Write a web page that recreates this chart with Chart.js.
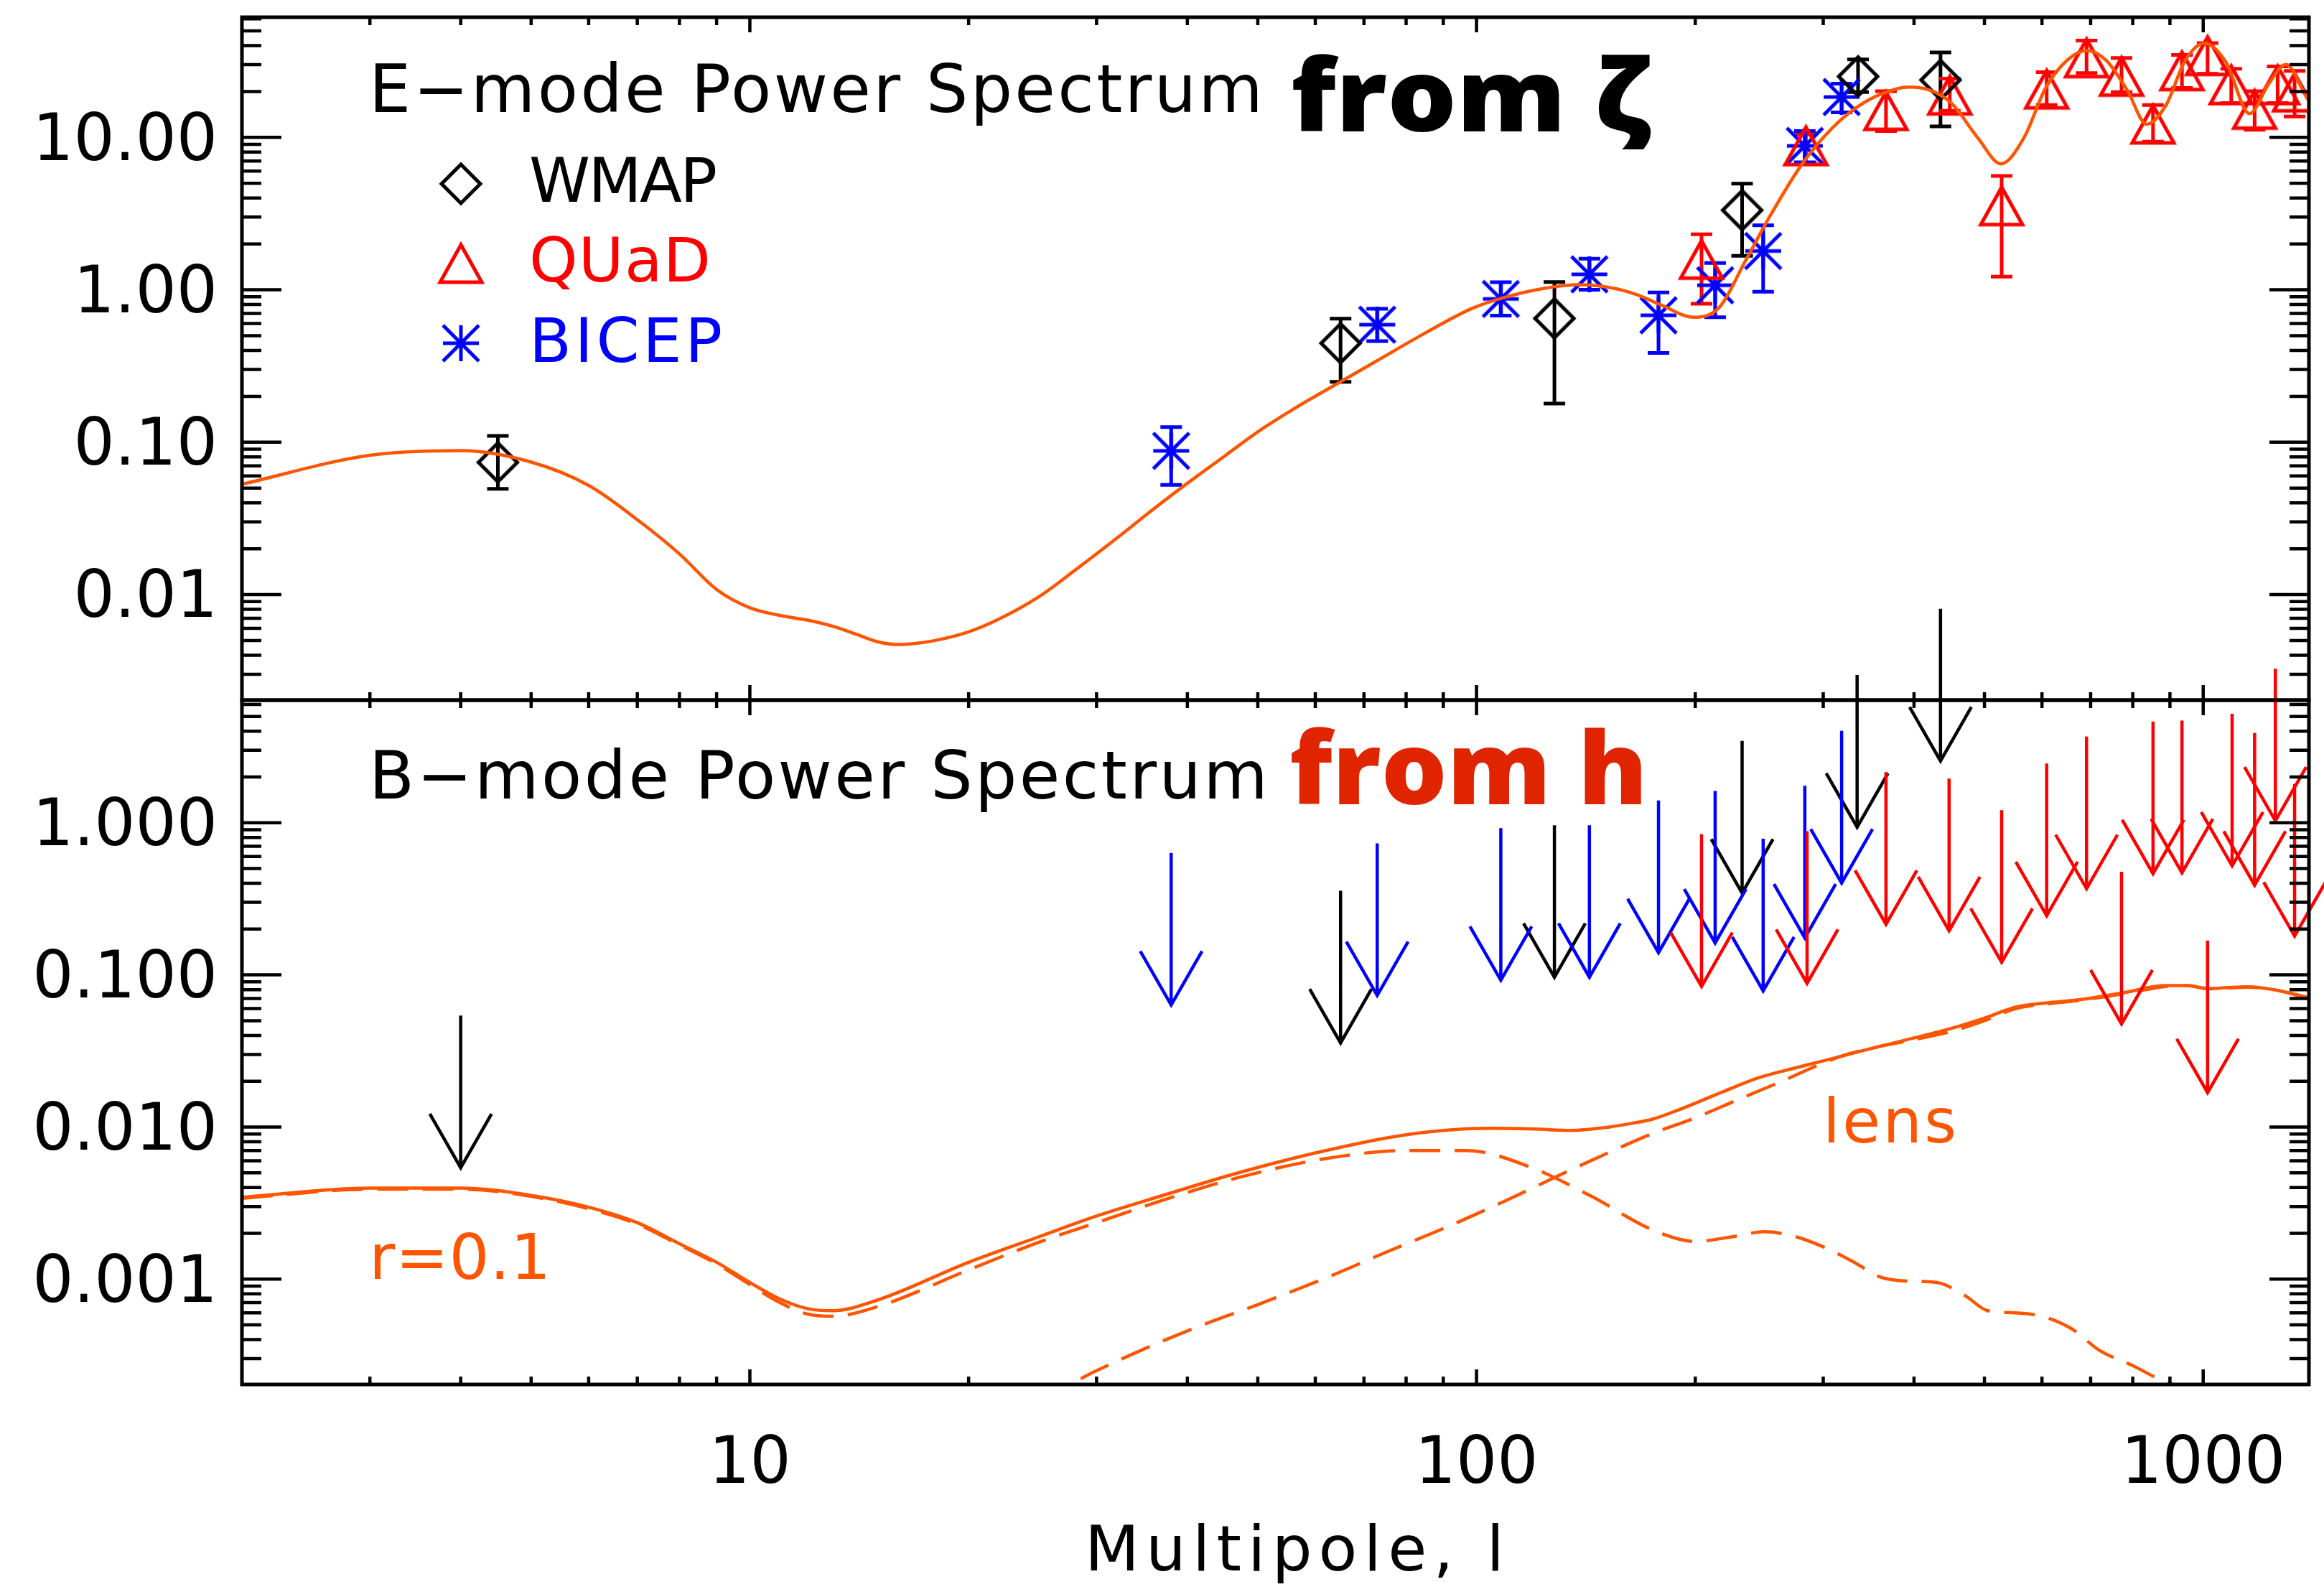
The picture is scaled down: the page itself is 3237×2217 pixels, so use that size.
<!DOCTYPE html>
<html><head><meta charset="utf-8">
<script src="https://cdn.jsdelivr.net/npm/chart.js@4.4.1/dist/chart.umd.min.js"></script>
<style>
html,body{margin:0;padding:0;background:#fff;}
#wrap{position:relative;width:3237px;height:2217px;}
#wrap canvas{position:absolute;left:0;top:0;}
</style></head>
<body><div id="wrap"><canvas id="cTop" width="3237" height="2217"></canvas><canvas id="cBot" width="3237" height="2217"></canvas></div>
<script>
// ---------------- axis ranges & tick labels ----------------
const xRange = [2, 1398];
const yTopRange = [0.00203, 61.4];
const yBotRange = [0.000203, 6.4];
const xTickVals = [10, 100, 1000];
const xTickLabels = ['10', '100', '1000'];
const yTopTickVals = [0.01, 0.1, 1, 10];
const yTopTickLabels = ['0.01', '0.10', '1.00', '10.00'];
const yBotTickVals = [0.001, 0.01, 0.1, 1];
const yBotTickLabels = ['0.001', '0.010', '0.100', '1.000'];

// ---------------- E-mode theory ----------------
const eL = [2,3,4,5,6,7,8,9,10,11,12,13,14,15,16,17,18,20,22,25,28.2,32,35,39.2,45,50,56,62.5,72.7,84.6,98.4,108.6,123.6,138.5,155,166,180,199,216,234,254,280,308,334,362,393,421,450,489,527,567,607,650,691,735,786,836,889,945,1004,1075,1158,1231,1300,1392,1420];
const eCl = [0.053,0.082,0.088,0.074,0.052,0.031,0.0185,0.0108,0.0082,0.0073,0.0068,0.0062,0.0055,0.0049,0.0047,0.0048,0.0050,0.0057,0.0069,0.0097,0.0148,0.0235,0.0330,0.050,0.081,0.117,0.165,0.224,0.339,0.514,0.751,0.884,1.02,1.078,1.02,0.93,0.79,0.66,0.77,1.52,3.1,6.6,11.4,15.8,19.4,21.4,20.4,16.8,10.0,6.7,10.0,21.1,32.1,37.1,32.1,20.4,12.2,16.3,32.1,41.6,31.1,14.3,22.5,30.1,17.9,16];

// ---------------- E-mode data ----------------
const wmapL = [4.5, 65, 128, 232, 335, 435];
const wmapE = [0.0737, 0.446, 0.649, 3.33, 25.1, 23.8];
const wmapEhi = [0.110, 0.646, 1.123, 4.97, 32.5, 36.1];
const wmapElo = [0.0494, 0.249, 0.179, 1.67, 19.8, 11.8];

const quadL = [204, 284, 366, 448, 528, 609, 691, 772, 853, 935, 1014, 1093, 1177, 1266, 1336];
const quadE = [1.58, 8.79, 14.96, 18.9, 3.55, 20.7, 33.2, 25.1, 12.2, 27.3, 34.3, 22.1, 15.25, 22.1, 19.8];
const quadEhi = [2.31, 10.5, 20.1, 24.3, 5.58, 26.8, 43.1, 33.2, 16.3, 34.7, 41.6, 28.2, 20.1, 29.2, 27.3];
const quadElo = [0.81, 6.8, 11.0, 14.96, 1.22, 16.3, 26.4, 19.8, 9.38, 21.1, 26.1, 16.8, 11.2, 16.8, 13.7];

const bicepL = [38, 73, 108, 143, 178, 213, 248, 283, 318];
const bicepE = [0.0877, 0.59, 0.871, 1.263, 0.68, 1.07, 1.796, 8.79, 18.4];
const bicepEhi = [0.1256, 0.75, 1.12, 1.60, 0.96, 1.50, 2.65, 11.0, 22.5];
const bicepElo = [0.0524, 0.46, 0.676, 1.00, 0.385, 0.66, 0.97, 6.87, 14.6];

// ---------------- B-mode theory ----------------
const totL = [2,3,4,5,6,7,8,9,10,11,12,13,15,20,25,30,37,47,62,80,104,120,135,150,164,174,190,218,244,275,300,343,400,450,500,552,620,677,775,888,950,1018,1080,1150,1250,1392,1420];
const totB = [0.00345,0.00397,0.00397,0.00355,0.00297,0.00235,0.00171,0.00129,0.00095,0.00074,0.00064,0.00062,0.00073,0.00129,0.00190,0.00260,0.00355,0.00500,0.00700,0.00890,0.0098,0.0097,0.0095,0.0099,0.0106,0.0112,0.0130,0.0170,0.0210,0.0245,0.0272,0.0321,0.0385,0.0445,0.052,0.0614,0.066,0.0688,0.0762,0.0850,0.0850,0.0813,0.0825,0.0834,0.080,0.0714,0.070];
const tensL = [2,3,4,5,6,7,8,9,10,11,12,13,15,20,25,30,37,47,62,80,97,118,144,175,200,225,249,275,300,330,360,393,430,470,505,550,600,660,720,800,870,915,960];
const tensB = [0.0034,0.0039,0.0039,0.0035,0.0029,0.0023,0.00168,0.00126,0.00092,0.0007,0.00059,0.00057,0.00066,0.00115,0.00175,0.00235,0.0033,0.00465,0.0062,0.0070,0.0070,0.0055,0.0035,0.0021,0.00177,0.0019,0.00205,0.0019,0.00163,0.0013,0.00103,0.00097,0.00095,0.00078,0.00062,0.00060,0.00057,0.00047,0.00034,0.00027,0.00022,0.0002,0.00017];
const lensL = [25,27.3,30,35,42,50,63,75,91,110,131,150,174,200,228,260,316,360,400,450,500,552,620,677,775,888,950,1018,1080,1150,1250,1392,1420];
const lensB = [0.00017,0.0002,0.00025,0.00035,0.0005,0.00068,0.00105,0.0015,0.0022,0.0033,0.0049,0.0066,0.0090,0.0115,0.0150,0.0195,0.0290,0.0340,0.0375,0.0425,0.050,0.060,0.065,0.068,0.075,0.084,0.085,0.081,0.082,0.083,0.080,0.071,0.070];

// ---------------- B-mode upper limits ----------------
const wmapBL = [4, 65, 128, 232, 334, 435];
const wmapBup = [0.054, 0.357, 0.964, 3.45, 9.35, 25.5];
const bicepBup = [0.634, 0.732, 0.922, 0.964, 1.40, 1.62, 0.785, 1.75, 4.02];
const quadBL = [204, 285, 366, 447, 528, 609, 691, 772, 853, 935, 1014, 1096, 1177, 1257, 1336];
const quadBup = [0.84, 0.88, 2.15, 1.95, 1.21, 2.45, 3.69, 0.476, 4.63, 4.69, 0.168, 5.21, 3.89, 10.3, 1.80];

// ---------------- styles ----------------
const ORANGE = '#ff5500', RED = '#ff0000', BLUE = '#0000ff', BLACK = '#000000', HRED = '#e02400';
const TXT = '"DejaVu Sans", "Liberation Sans", sans-serif';
const BOLD = '"Open Sans", "Noto Sans", sans-serif';

function makeSym(kind, color) {
  const c = document.createElement('canvas'); c.width = 76; c.height = 76;
  const g = c.getContext('2d'); g.strokeStyle = color; g.lineWidth = 5; g.lineJoin = 'miter';
  g.translate(38, 38); g.beginPath();
  if (kind === 'diamond') { g.moveTo(-27,0); g.lineTo(0,-27); g.lineTo(27,0); g.lineTo(0,27); g.closePath(); }
  if (kind === 'triangle') { g.moveTo(-29,26); g.lineTo(29,26); g.lineTo(0,-26); g.closePath(); }
  if (kind === 'asterisk') { g.moveTo(-25,0); g.lineTo(25,0); g.moveTo(0,-25); g.lineTo(0,25); g.moveTo(-25,-25); g.lineTo(25,25); g.moveTo(-25,25); g.lineTo(25,-25); }
  g.stroke(); return c;
}
const symW = makeSym('diamond', BLACK), symQ = makeSym('triangle', RED), symB = makeSym('asterisk', BLUE);

const pts = (xs, ys) => xs.map((x, i) => ({x, y: ys[i]}));

function logTicks(min, max) {
  const out = [];
  for (let e = Math.floor(Math.log10(min)); e <= Math.ceil(Math.log10(max)); e++)
    for (let k = 1; k < 10; k++) { const v = k * Math.pow(10, e); if (v > min * 1.0001 && v < max / 1.0001) out.push([v, k === 1]); }
  return out;
}

// text stretched to a width with letter spacing
function spacedText(ctx, text, x, y, font, color, width) {
  ctx.save(); ctx.font = font; ctx.fillStyle = color; ctx.textBaseline = 'alphabetic'; ctx.textAlign = 'left';
  const n = [...text].length;
  if ('letterSpacing' in ctx && n > 1) {
    ctx.letterSpacing = '0px';
    const w0 = ctx.measureText(text).width;
    ctx.letterSpacing = ((width - w0) / (n - 1)).toFixed(2) + 'px';
  }
  ctx.fillText(text, x, y); ctx.restore();
}
// text scaled horizontally to a width (for the heavy labels)
function scaledText(ctx, text, x, y, font, color, width) {
  ctx.save(); ctx.font = font; ctx.fillStyle = color; ctx.textBaseline = 'alphabetic'; ctx.textAlign = 'left';
  const w0 = ctx.measureText(text).width;
  ctx.translate(x, y); ctx.scale(width / w0, 1);
  ctx.fillText(text, 0, 0); ctx.restore();
}

const framePlugin = {
  id: 'frame',
  afterDraw(chart) {
    const {ctx, chartArea: a} = chart; const x = chart.scales.x, y = chart.scales.y;
    ctx.save(); ctx.strokeStyle = BLACK; ctx.lineWidth = 4.5; ctx.lineCap = 'butt';
    ctx.beginPath();
    logTicks(y.min, y.max).forEach(([v, major]) => {
      const p = y.getPixelForValue(v), L = major ? 55 : 27;
      ctx.moveTo(a.left, p); ctx.lineTo(a.left + L, p); ctx.moveTo(a.right, p); ctx.lineTo(a.right - L, p);
    });
    logTicks(x.min, x.max).forEach(([v, major]) => {
      const p = x.getPixelForValue(v), L = major ? 21 : 11;
      ctx.moveTo(p, a.top); ctx.lineTo(p, a.top + L); ctx.moveTo(p, a.bottom); ctx.lineTo(p, a.bottom - L);
    });
    ctx.stroke();
    ctx.lineWidth = 5; ctx.strokeRect(a.left, a.top, a.right - a.left, a.bottom - a.top);
    ctx.restore();
  }
};

const errSets = [
  {l: wmapL, lo: wmapElo, hi: wmapEhi, color: BLACK},
  {l: quadL, lo: quadElo, hi: quadEhi, color: RED},
  {l: bicepL, lo: bicepElo, hi: bicepEhi, color: BLUE}
];
const errPlugin = {
  id: 'errbars',
  beforeDatasetsDraw(chart) {
    const {ctx} = chart; const x = chart.scales.x, y = chart.scales.y;
    ctx.save(); ctx.lineWidth = 5; ctx.lineCap = 'butt';
    errSets.forEach(s => {
      ctx.strokeStyle = s.color; ctx.beginPath();
      s.l.forEach((l, i) => {
        const px = x.getPixelForValue(l), p1 = y.getPixelForValue(s.hi[i]), p2 = y.getPixelForValue(s.lo[i]);
        ctx.moveTo(px, p1); ctx.lineTo(px, p2);
        ctx.moveTo(px - 15, p1); ctx.lineTo(px + 15, p1);
        ctx.moveTo(px - 15, p2); ctx.lineTo(px + 15, p2);
      });
      ctx.stroke();
    });
    ctx.restore();
  }
};

const topText = {
  id: 'topText',
  afterDraw(chart) {
    const ctx = chart.ctx;
    spacedText(ctx, 'E\u2212mode Power Spectrum', 514, 156, '92px ' + TXT, BLACK, 1245);
    scaledText(ctx, 'from \u03b6', 1798, 183, '800 140px ' + BOLD, BLACK, 500);
    const leg = [[symW, 'WMAP', BLACK, 256, 281, 262], [symQ, 'QUaD', RED, 367, 392, 253], [symB, 'BICEP', BLUE, 478, 504, 269]];
    leg.forEach(([img, t, c, sy, by, w]) => {
      ctx.drawImage(img, 642 - img.width / 2, sy - img.height / 2);
      spacedText(ctx, t, 737, by, '86px ' + TXT, c, w);
    });
  }
};

const arrowSets = [
  {l: wmapBL, up: wmapBup, color: BLACK},
  {l: bicepL, up: bicepBup, color: BLUE},
  {l: quadBL, up: quadBup, color: RED}
];
const arrowPlugin = {
  id: 'arrows',
  afterDatasetsDraw(chart) {
    const {ctx} = chart; const x = chart.scales.x, y = chart.scales.y;
    ctx.save(); ctx.lineWidth = 4.5; ctx.lineCap = 'butt'; ctx.lineJoin = 'miter';
    arrowSets.forEach(s => {
      ctx.strokeStyle = s.color;
      s.l.forEach((l, i) => {
        const px = x.getPixelForValue(l), pt = y.getPixelForValue(s.up[i]), pb = y.getPixelForValue(s.up[i] / 10);
        ctx.beginPath();
        ctx.moveTo(px, pt); ctx.lineTo(px, pb);
        ctx.moveTo(px - 43, pb - 75); ctx.lineTo(px, pb); ctx.lineTo(px + 43, pb - 75);
        ctx.stroke();
      });
    });
    ctx.restore();
  }
};

const botText = {
  id: 'botText',
  afterDraw(chart) {
    const ctx = chart.ctx;
    spacedText(ctx, 'B\u2212mode Power Spectrum', 514, 1112, '92px ' + TXT, BLACK, 1252);
    scaledText(ctx, 'from h', 1796, 1120, '800 140px ' + BOLD, HRED, 499);
    spacedText(ctx, 'r=0.1', 514, 1781, '88px ' + TXT, ORANGE, 253);
    spacedText(ctx, 'lens', 2539, 1591, '86px ' + TXT, ORANGE, 186);
    spacedText(ctx, 'Multipole, l', 1511, 2187, '88px ' + TXT, BLACK, 584);
  }
};

function yAxis(range, vals, labels) {
  return {
    type: 'logarithmic', min: range[0], max: range[1], position: 'left',
    grid: {display: false, drawTicks: false}, border: {display: false},
    afterBuildTicks: s => { s.ticks = vals.map(v => ({value: v})); },
    ticks: {callback: (v, i) => labels[i], font: {family: TXT, size: 90}, color: BLACK, padding: 34, labelOffset: 8, autoSkip: false},
    afterFit: s => { s.width = 337; s.paddingTop = 0; s.paddingBottom = 0; }
  };
}
function xAxis(show) {
  return {
    type: 'logarithmic', min: xRange[0], max: xRange[1], display: show, position: 'bottom',
    grid: {display: false, drawTicks: false}, border: {display: false},
    afterBuildTicks: s => { s.ticks = xTickVals.map(v => ({value: v})); },
    ticks: {callback: (v, i) => xTickLabels[i], font: {family: TXT, size: 90}, color: BLACK, padding: 60, maxRotation: 0, autoSkip: false},
    afterFit: s => { s.height = show ? 289 : 0; s.paddingLeft = 0; s.paddingRight = 0; }
  };
}
const baseOpts = {responsive: false, animation: false, devicePixelRatio: 1, events: [],
  plugins: {legend: {display: false}, tooltip: {enabled: false}, title: {display: false}}};

const curve = (l, v, dash) => ({data: pts(l, v), showLine: true, borderColor: ORANGE, borderWidth: 4.5, pointRadius: 0,
  cubicInterpolationMode: 'monotone', borderDash: dash || [], fill: false});
const scat = (l, v, img) => ({data: pts(l, v), showLine: false, pointStyle: img, pointRadius: 20});

new Chart(document.getElementById('cTop'), {
  type: 'scatter',
  data: {datasets: [curve(eL, eCl), scat(wmapL, wmapE, symW), scat(quadL, quadE, symQ), scat(bicepL, bicepE, symB)]},
  options: Object.assign({}, baseOpts, {
    layout: {padding: {top: 24, bottom: 2217 - 975, left: 0, right: 21}},
    scales: {x: xAxis(false), y: yAxis(yTopRange, yTopTickVals, yTopTickLabels)}
  }),
  plugins: [errPlugin, framePlugin, topText]
});

new Chart(document.getElementById('cBot'), {
  type: 'scatter',
  data: {datasets: [curve(totL, totB), curve(tensL, tensB, [43, 20]), curve(lensL, lensB, [43, 20])]},
  options: Object.assign({}, baseOpts, {
    layout: {padding: {top: 975, bottom: 0, left: 0, right: 21}},
    scales: {x: xAxis(true), y: yAxis(yBotRange, yBotTickVals, yBotTickLabels)}
  }),
  plugins: [framePlugin, arrowPlugin, botText]
});
</script></body></html>
